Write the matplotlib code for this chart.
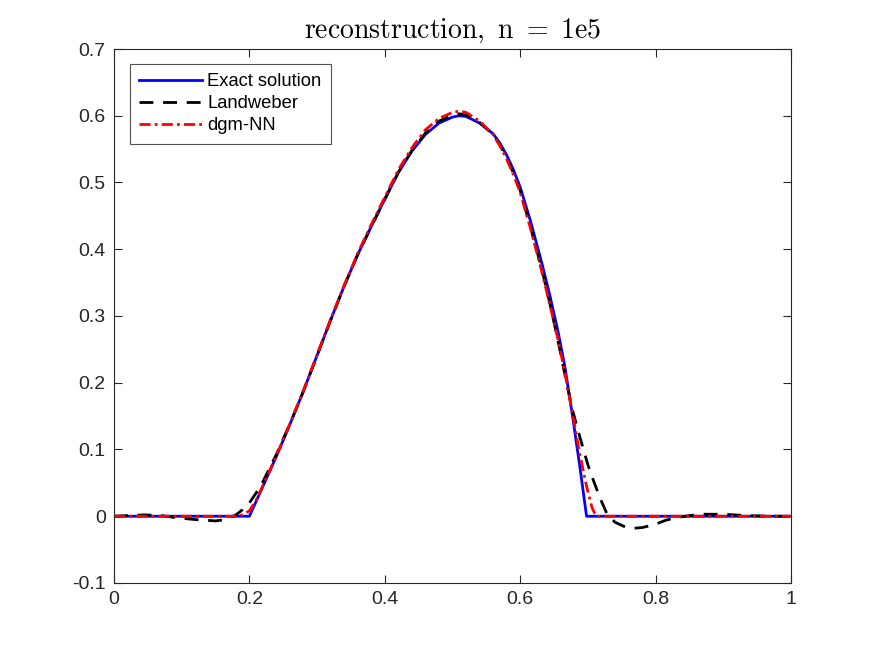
#!/usr/bin/env python3
# -*- coding: utf-8 -*-

"""
reconstruction plot (exact / Landweber / dgm-NN)
"""

import matplotlib
matplotlib.use('Agg')
import matplotlib.pyplot as plt

# exact solution
x_exact = [0.0, 0.2, 0.22, 0.24, 0.26, 0.28, 0.30, 0.32, 0.34, 0.36, 0.38,
           0.40, 0.42, 0.44, 0.46, 0.48, 0.50, 0.51, 0.52, 0.54, 0.56, 0.57,
           0.58, 0.59, 0.60, 0.615, 0.632, 0.644, 0.656, 0.666, 0.677, 0.688,
           0.698, 1.0]
y_exact = [0.0, 0.0, 0.045, 0.090, 0.138, 0.188, 0.241, 0.294, 0.345, 0.392,
           0.434, 0.475, 0.515, 0.547, 0.572, 0.589, 0.598, 0.600, 0.599,
           0.589, 0.573, 0.559, 0.541, 0.519, 0.493, 0.443, 0.379, 0.330,
           0.276, 0.224, 0.152, 0.075, 0.0, 0.0]

# Landweber
x_lw = [0.0, 0.02, 0.045, 0.07, 0.09, 0.12, 0.15, 0.165, 0.18, 0.19, 0.20,
        0.21, 0.22, 0.24, 0.26, 0.28, 0.30, 0.32, 0.34, 0.36, 0.38, 0.40,
        0.42, 0.44, 0.46, 0.48, 0.50, 0.51, 0.52, 0.54, 0.56, 0.57, 0.58,
        0.59, 0.60, 0.615, 0.632, 0.644, 0.656, 0.666, 0.677, 0.688, 0.70,
        0.708, 0.718, 0.728, 0.74, 0.755, 0.767, 0.78, 0.797, 0.815, 0.831,
        0.85, 0.87, 0.90, 0.934, 0.97, 1.0]
y_lw = [0.0, 0.001, 0.002, 0.001, -0.002, -0.005, -0.007, -0.005, 0.002,
        0.010, 0.020, 0.035, 0.052, 0.093, 0.139, 0.188, 0.241, 0.294,
        0.345, 0.392, 0.434, 0.475, 0.515, 0.548, 0.574, 0.592, 0.601, 0.603,
        0.601, 0.590, 0.572, 0.556, 0.537, 0.514, 0.488, 0.434, 0.370, 0.318,
        0.262, 0.212, 0.160, 0.119, 0.077, 0.054, 0.027, 0.004, -0.009,
        -0.016, -0.018, -0.017, -0.013, -0.006, -0.002, 0.001, 0.003, 0.003,
        0.001, 0.0, 0.0]

# dgm-NN
x_nn = [0.0, 0.185, 0.2, 0.21, 0.22, 0.24, 0.26, 0.28, 0.30, 0.32, 0.34,
        0.36, 0.38, 0.40, 0.42, 0.44, 0.46, 0.48, 0.50, 0.51, 0.52, 0.54,
        0.56, 0.57, 0.58, 0.59, 0.60, 0.615, 0.632, 0.644, 0.656, 0.666,
        0.677, 0.688, 0.698, 0.706, 0.712, 1.0]
y_nn = [0.0, 0.0, 0.008, 0.024, 0.046, 0.091, 0.139, 0.189, 0.242, 0.295,
        0.346, 0.394, 0.437, 0.478, 0.519, 0.552, 0.579, 0.596, 0.605, 0.607,
        0.605, 0.592, 0.572, 0.555, 0.535, 0.512, 0.485, 0.432, 0.366,
        0.316, 0.264, 0.215, 0.155, 0.093, 0.045, 0.013, 0.0, 0.0]

xticks = [0, 0.2, 0.4, 0.6, 0.8, 1]
xticklabels = ['0', '0.2', '0.4', '0.6', '0.8', '1']
yticks = [-0.1, 0, 0.1, 0.2, 0.3, 0.4, 0.5, 0.6, 0.7]
yticklabels = ['-0.1', '0', '0.1', '0.2', '0.3', '0.4', '0.5', '0.6', '0.7']

plt.rcParams['font.family'] = ['Liberation Sans', 'DejaVu Sans']
plt.rcParams['mathtext.fontset'] = 'cm'

fig = plt.figure(figsize=(8.75, 6.56), dpi=100)
ax = fig.add_axes([0.1303, 0.1113, 0.7737, 0.814])

ax.plot(x_exact, y_exact, '-', color=(0, 0, 1), lw=2.0, label='Exact solution')
ax.plot(x_lw, y_lw, '--', color='black', lw=2.0, dashes=(5, 3.5), label='Landweber')
ax.plot(x_nn, y_nn, '-.', color=(1, 0, 0), lw=2.0, dashes=(4, 1.5, 1, 1.5), label='dgm-NN')

ax.set_xlim(0, 1)
ax.set_ylim(-0.1, 0.7)
ax.set_xticks(xticks)
ax.set_xticklabels(xticklabels)
ax.set_yticks(yticks)
ax.set_yticklabels(yticklabels)

axcol = (0.15, 0.15, 0.15)
for s in ax.spines.values():
    s.set_color(axcol)
    s.set_linewidth(0.8)
ax.tick_params(direction='in', top=True, right=True, length=6, width=0.8,
               colors=axcol, labelcolor=axcol, labelsize=14, pad=6)

ax.set_title(r'$\mathrm{reconstruction,\ n\ =\ 1e5}$', fontsize=20, pad=8)

leg = ax.legend(loc='upper left', bbox_to_anchor=(0.024, 0.972), fontsize=13.2,
                frameon=True, fancybox=False, edgecolor=axcol, handlelength=3.4,
                borderpad=0.5, labelspacing=0.28, handletextpad=0.3,
                borderaxespad=0)
leg.get_frame().set_linewidth(0.8)

plt.savefig('out.png', dpi=100)
plt.close()
